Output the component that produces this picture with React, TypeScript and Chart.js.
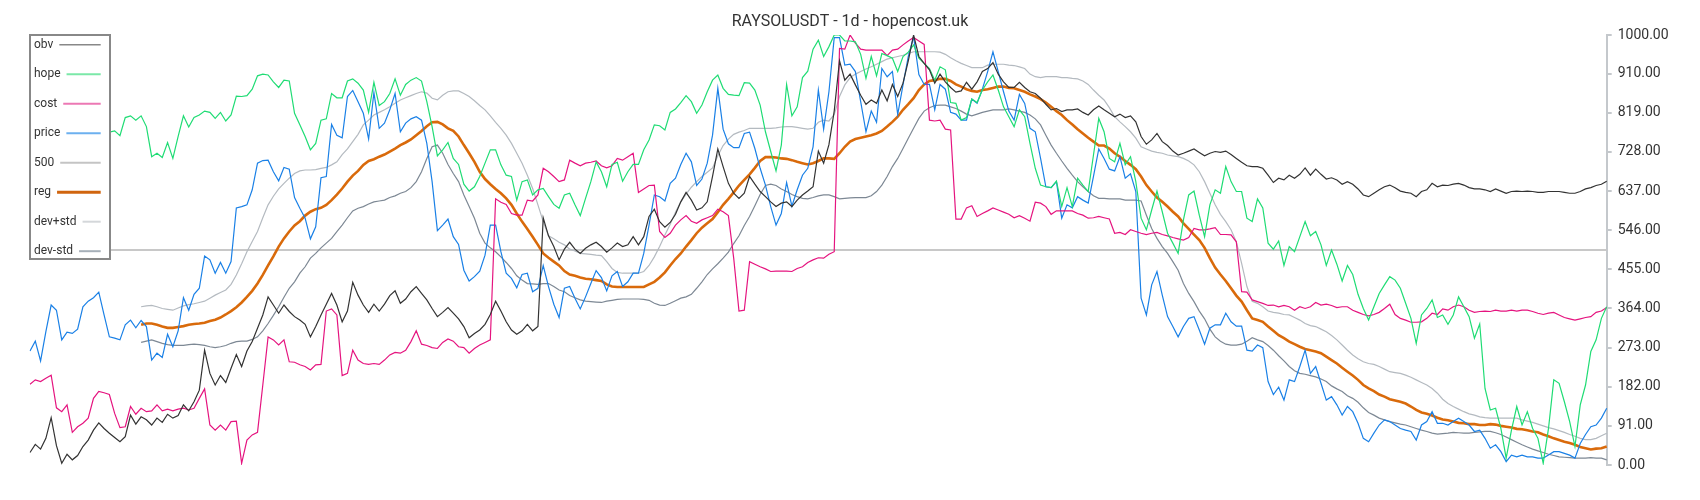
import React, { useEffect, useRef } from 'react';
import { Chart, registerables } from 'chart.js';

Chart.register(...registerables);

const TITLE = 'RAYSOLUSDT - 1d - hopencost.uk';

const yTicks = [0, 91, 182, 273, 364, 455, 546, 637, 728, 819, 910, 1000];

const obv = [29,48,37,62,110,45,4,25,12,22,
43,58,81,98,85,74,64,54,66,116,
95,112,105,93,109,99,118,109,115,140,
126,147,174,267,213,186,208,192,225,257,
229,265,287,318,349,391,372,353,372,357,
345,337,327,298,322,349,374,399,372,333,
358,425,395,372,355,374,358,374,394,405,
376,386,403,415,399,384,364,345,355,366,
353,340,322,296,306,314,327,350,381,358,
333,314,304,312,327,312,322,575,533,508,
477,
502,518,502,492,504,512,518,508,495,505,
516,508,512,531,512,531,578,595,566,553,
564,583,612,634,616,593,598,612,671,735,
694,655,632,620,632,671,653,636,624,612,
601,609,612,601,616,628,637,647,730,702,
745,
823,940,895,909,884,860,839,849,841,872,
847,885,857,888,940,1000,950,934,919,888,
909,891,878,867,870,890,874,891,915,922,
936,909,891,878,878,890,878,868,864,853,
839,826,829,822,826,826,828,820,814,826,
835,
826,818,810,816,808,812,798,764,746,756,
771,752,743,730,721,725,730,735,727,719,
725,729,727,730,722,713,704,696,694,694,
690,674,657,667,663,674,667,676,691,674,
688,676,665,668,663,653,659,653,642,628,
624,
632,640,647,651,645,637,634,632,624,636,
640,655,647,651,650,653,655,651,645,642,
642,640,636,642,637,632,636,637,636,637,
636,634,634,636,636,636,634,632,632,636,
642,645,650,653,660];

const HOPE_START = 15;
const hopeValues = [774,777,766,808,812,802,812,787,717,725,
715,750,713,764,812,786,808,814,823,820,
806,820,800,814,858,857,859,874,905,909,
907,891,878,895,893,
818,791,764,733,748,802,805,864,854,854,
893,898,888,872,820,890,836,845,864,898,
860,885,895,901,893,845,787,719,733,750,
713,699,653,637,647,671,702,733,733,698,
674,671,616,659,663,628,640,643,624,606,
597,
628,632,605,580,620,659,705,682,647,699,
704,660,682,699,699,733,756,791,789,779,
820,828,843,859,845,818,837,868,895,907,
876,862,860,859,889,888,872,837,775,729,
684,744,885,812,833,901,916,967,988,950,
973,
1000,1000,986,986,984,955,899,950,905,957,
952,946,915,950,960,977,946,934,922,895,
926,919,843,841,802,808,851,843,872,891,
907,872,833,810,787,826,810,748,690,651,
647,645,660,601,645,601,667,651,636,721,
806,
775,713,705,748,698,717,659,574,547,593,
637,589,539,516,492,570,628,637,581,531,
605,640,632,694,659,636,636,574,566,619,
598,516,502,521,464,508,496,531,566,533,
543,512,464,500,467,428,464,443,397,364,
337,
368,399,419,438,430,411,376,341,283,349,
364,384,343,349,327,349,391,368,345,295,
328,178,128,132,85,16,81,136,93,124,
85,62,4,85,198,190,147,101,43,140,
186,264,291,341,368];

const cost = [188,198,194,202,209,133,124,140,76,89,
97,109,155,171,168,164,120,87,89,136,
118,132,124,126,140,126,130,126,130,132,
128,132,155,177,93,81,93,81,101,102,
4,58,70,76,186,298,291,279,291,240,
239,233,229,221,233,234,358,363,349,208,
213,267,244,236,234,236,234,244,256,262,
260,267,287,312,281,278,273,271,285,293,
288,275,273,260,271,279,285,291,619,611,
606,585,581,581,616,614,628,690,682,671,
659,
663,709,702,696,702,704,707,696,691,696,
713,709,717,725,634,642,650,651,543,529,
539,558,570,580,567,562,570,575,580,595,
589,580,481,358,360,473,467,461,456,450,
451,451,451,450,457,461,471,477,482,481,
490,
496,969,967,1000,981,967,965,965,965,965,
952,965,967,977,986,994,986,978,802,800,
802,781,779,572,572,598,603,578,585,591,
598,593,588,583,575,580,574,567,611,609,
601,583,591,591,591,591,585,581,574,575,
578,
575,572,539,541,536,547,543,539,536,539,
541,536,533,529,526,523,529,550,547,547,
549,552,536,536,535,519,403,402,384,380,
376,371,372,368,371,368,360,368,364,368,
378,372,374,371,366,368,368,360,355,350,
347,
350,355,364,374,350,341,337,332,332,333,
341,353,350,363,360,368,372,368,360,355,
357,358,357,360,358,358,360,358,360,360,
357,353,350,353,355,349,343,340,337,340,
343,345,355,358,366];

const price = [265,288,242,310,372,360,291,309,306,316,
368,381,389,402,349,298,295,291,326,337,
319,336,322,244,260,250,304,275,312,389,
360,397,411,486,477,446,471,446,473,598,
601,605,640,702,708,709,682,661,692,688,
622,597,574,526,554,668,671,792,767,761,
857,871,845,818,758,866,783,795,826,864,
775,795,805,810,802,748,659,545,558,572,
531,513,453,428,438,451,488,558,558,496,
446,434,412,443,446,403,411,464,415,374,
343,
411,415,388,363,391,422,452,436,405,440,
450,415,426,446,446,492,558,628,624,614,
655,667,699,725,705,650,665,702,767,876,
781,747,738,738,771,774,736,690,651,601,
558,585,657,602,640,674,690,740,872,781,
868,
994,994,930,932,915,845,775,823,797,922,
903,915,815,884,950,996,908,885,885,826,
885,874,820,816,802,802,851,841,874,915,
961,915,868,823,802,862,841,783,775,713,
647,645,659,574,605,598,624,616,609,671,
735,
713,688,684,717,667,677,636,388,349,419,
450,395,345,322,298,322,341,345,314,281,
318,326,326,353,333,323,323,267,265,279,
273,194,164,181,151,198,194,229,267,213,
229,190,151,159,140,116,136,124,97,62,
54,
74,93,105,101,93,85,81,78,58,93,
101,124,97,97,93,101,109,101,93,78,
81,62,39,47,31,8,23,19,23,19,
19,16,16,23,31,31,27,23,16,50,
71,89,93,109,132];

const LEVEL = 500;

const BAND_START = 21;
const regValues = [326,329,329,326,322,319,319,321,323,326,
328,329,331,335,338,343,350,358,367,378,
391,405,422,442,464,485,508,527,543,
557,567,580,589,595,598,605,616,629,643,
659,673,684,698,707,711,717,722,729,736,
744,750,757,767,777,788,797,798,792,783,
777,764,744,725,705,682,665,653,642,632,
620,605,585,566,549,531,512,492,482,473,
464,
451,443,440,436,433,432,430,428,420,415,
414,414,414,414,414,414,420,426,436,448,
464,479,492,508,523,539,552,562,572,588,
605,619,634,650,663,676,691,707,716,716,
715,713,712,709,705,702,699,702,707,713,
713,
712,725,740,752,758,761,764,767,771,777,
787,798,810,826,839,853,872,885,893,895,
898,898,893,885,880,874,870,868,872,874,
877,880,880,877,876,872,868,862,857,851,
843,833,823,814,802,792,781,771,761,752,
743,
743,736,725,717,707,698,688,671,651,636,
622,612,601,589,578,562,549,536,523,505,
481,459,443,428,411,394,380,360,341,337,
333,322,312,302,295,287,281,275,270,267,
264,260,252,244,236,226,217,208,198,186,
178,
172,164,159,153,150,147,143,136,128,122,
119,115,110,106,104,101,98,97,95,95,
93,93,95,94,91,89,87,84,83,81,
78,76,71,67,62,58,54,51,47,42,
39,36,38,39,43];

const devPlusValues = [368,370,371,368,364,362,360,365,370,373,
375,378,381,388,395,401,407,420,442,468,
496,520,543,575,605,625,642,655,667,
678,684,686,686,687,690,692,698,705,722,
735,752,769,791,802,814,820,826,833,841,
849,854,859,864,868,865,853,849,860,868,
870,870,864,857,847,836,826,812,797,783,
767,748,725,702,674,643,605,566,533,526,
518,
512,502,498,492,491,490,488,487,473,457,
448,446,446,446,446,450,464,484,508,535,
560,588,612,630,646,659,671,681,691,719,
743,758,769,774,778,783,783,783,783,783,
784,786,787,787,785,783,781,783,797,802,
800,
815,857,884,901,909,915,921,926,932,938,
944,947,950,953,957,961,961,961,961,961,
960,955,947,940,934,929,924,924,924,930,
932,932,932,930,929,926,922,909,903,901,
903,903,903,901,901,899,898,893,885,872,
860,
849,831,810,798,787,775,760,740,735,730,
727,725,721,719,717,713,707,698,682,659,
632,605,583,566,547,519,469,415,381,376,
368,358,355,353,350,349,343,337,329,324,
322,316,310,301,291,279,267,256,247,240,
236,
234,229,223,217,215,213,209,204,198,192,
186,178,167,153,143,136,130,124,119,116,
112,110,109,109,109,109,109,109,105,102,
99,95,91,87,84,80,76,71,67,62,
59,59,62,68,74];

const devMinusValues = [285,288,291,287,283,280,278,278,278,280,
281,280,278,275,273,275,278,283,287,288,
288,292,298,312,329,348,368,390,411,
426,446,461,481,492,505,516,527,543,558,
575,591,597,601,607,612,614,616,622,626,
632,636,645,659,682,713,740,744,725,699,
678,659,628,601,574,539,516,505,496,484,
471,457,440,430,422,421,420,422,422,415,
407,
403,394,389,384,381,380,379,378,381,383,
385,386,386,386,386,385,383,376,372,371,
376,382,388,391,397,411,426,443,456,468,
481,495,515,533,557,578,603,629,650,653,
650,642,636,629,624,620,619,622,626,628,
628,
624,619,620,621,622,622,622,626,636,651,
671,694,713,736,760,783,806,823,831,836,
837,837,833,829,823,816,812,816,820,823,
826,826,826,828,826,823,820,814,805,791,
767,744,725,707,690,674,659,647,636,626,
620,
620,619,619,619,616,616,616,614,581,550,
527,508,492,473,453,422,399,380,358,340,
316,298,288,281,279,279,281,288,296,291,
287,278,267,254,242,229,219,213,211,208,
205,200,194,184,177,171,161,155,146,133,
122,
116,109,105,101,98,95,93,89,85,81,
78,74,72,73,74,76,75,74,74,76,
77,78,78,75,71,65,59,53,47,42,
37,33,29,25,22,19,18,17,16,16,
16,17,16,16,12];

const days = price.map((_, i) => `D${i + 1}`);
const pad = (n: number) => Array(n).fill(null);

const LEGEND_COLORS = ['#888888', '#7be8a8', '#ec78b4', '#6cb0ef', '#c4c4c4', '#d0650f', '#d4d7da', '#a6afb8'];
const LEGEND_WIDTHS = [1.6, 2, 2, 2, 2, 3, 2, 2];

const overlayPlugin = {
  id: 'overlay',
  afterDraw(chart: any) {
    const { ctx, chartArea } = chart;
    ctx.save();
    ctx.font = '16px Roboto';
    ctx.fillStyle = '#333333';
    ctx.textAlign = 'center';
    ctx.textBaseline = 'alphabetic';
    ctx.fillText(TITLE, chart.width / 2, 18);

    const x0 = chartArea.left;
    const y0 = chartArea.top;
    ctx.fillStyle = '#ffffff';
    ctx.fillRect(x0, y0, 80, 224);
    ctx.strokeStyle = '#888888';
    ctx.lineWidth = 2;
    ctx.strokeRect(x0, y0, 80, 224);
    ctx.font = '12px Roboto';
    ctx.textAlign = 'left';
    ctx.textBaseline = 'middle';
    chart.data.datasets.forEach((ds: any, k: number) => {
      const y = y0 + 9.7 + k * 29.5;
      ctx.fillStyle = '#333333';
      ctx.fillText(ds.label, x0 + 4, y);
      const w = ctx.measureText(ds.label).width;
      ctx.strokeStyle = LEGEND_COLORS[k];
      ctx.lineWidth = LEGEND_WIDTHS[k];
      ctx.beginPath();
      ctx.moveTo(x0 + 4 + w + 6, y);
      ctx.lineTo(x0 + 70.7, y);
      ctx.stroke();
    });
    ctx.restore();
  },
};

export default function App() {
  const ref = useRef<HTMLCanvasElement | null>(null);
  useEffect(() => {
    if (!ref.current) return;
    Chart.defaults.font.family = 'Roboto';
    const line = (label: string, data: any[], color: string, width: number, order = 0) => ({
      label,
      data,
      borderColor: color,
      backgroundColor: color,
      borderWidth: width,
      pointRadius: 0,
      pointHoverRadius: 0,
      tension: 0,
      fill: false,
      order,
    });
    const chart = new Chart(ref.current, {
      type: 'line',
      data: {
        labels: days,
        datasets: [
          line('obv', obv, '#333333', 1.2),
          line('hope', [...pad(HOPE_START), ...hopeValues], '#1fdc74', 1.2, 1),
          line('cost', cost, '#e5147f', 1.2, 2),
          line('price', price, '#1a80e6', 1.2, 3),
          line('500', days.map(() => LEVEL), '#c8c8c8', 2, 10),
          line('reg', [...pad(BAND_START), ...regValues], '#d96a0b', 2.6, 4),
          line('dev+std', [...pad(BAND_START), ...devPlusValues], '#b4bac0', 1.2, 5),
          line('dev-std', [...pad(BAND_START), ...devMinusValues], '#7d8894', 1.2, 6),
        ],
      },
      options: {
        animation: false,
        responsive: true,
        maintainAspectRatio: false,
        layout: { padding: { left: 22, top: 27, bottom: 27, right: 0 } },
        plugins: { legend: { display: false }, title: { display: false }, tooltip: { enabled: false } },
        scales: {
          x: { display: false, offset: false },
          y: {
            position: 'right',
            min: 0,
            max: 1000,
            afterBuildTicks: (s: any) => { s.ticks = yTicks.map((v) => ({ value: v })); },
            afterFit: (s: any) => { s.width = 85.3; },
            border: { display: true, color: '#c4c8cc', width: 2 },
            grid: { display: true, drawOnChartArea: false, drawTicks: true, tickLength: 5, color: '#c4c8cc', lineWidth: 2 },
            ticks: {
              padding: 6,
              color: '#333333',
              font: { size: 14, family: 'Roboto' },
              autoSkip: false,
              callback: (v: any) => Number(v).toFixed(2),
            },
          },
        },
      },
      plugins: [overlayPlugin],
    });
    return () => chart.destroy();
  }, []);
  return (
    <div style={{ width: 1684, height: 484, position: 'relative' }}>
      <canvas ref={ref} />
    </div>
  );
}
